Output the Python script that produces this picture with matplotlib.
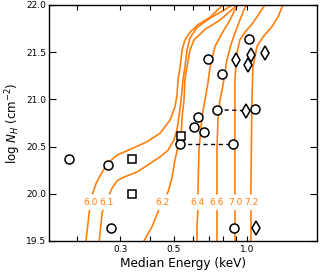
import numpy as np
import matplotlib
matplotlib.use('Agg')
import matplotlib.pyplot as plt
from matplotlib.ticker import FixedLocator, FixedFormatter, LogLocator, NullFormatter

# model tracks: median energy (keV) vs log NH, one per log T
e_60 = [0.217, 0.224, 0.230, 0.239, 0.253, 0.268, 0.292, 0.330, 0.387, 0.438, 0.482, 0.505,
        0.515, 0.520, 0.530, 0.540, 0.555, 0.582, 0.628, 0.704, 0.774, 0.796, 0.820]
nh_60 = [19.50, 19.81, 19.99, 20.11, 20.23, 20.33, 20.41, 20.47, 20.55, 20.64, 20.78, 20.92,
         21.05, 21.21, 21.34, 21.52, 21.63, 21.71, 21.79, 21.87, 21.97, 22.00, 22.03]

e_61 = [0.246, 0.253, 0.268, 0.278, 0.292, 0.314, 0.352, 0.399, 0.438, 0.473, 0.500, 0.515,
        0.525, 0.535, 0.545, 0.555, 0.566, 0.582, 0.622, 0.704, 0.811, 0.867, 0.892]
nh_61 = [19.50, 19.80, 19.97, 20.06, 20.14, 20.18, 20.23, 20.32, 20.39, 20.46, 20.57, 20.68,
         20.83, 20.99, 21.21, 21.34, 21.52, 21.65, 21.76, 21.86, 21.95, 22.00, 22.02]

e_62 = [0.376, 0.406, 0.430, 0.473, 0.491, 0.505, 0.520, 0.535, 0.540, 0.550, 0.555, 0.566,
        0.582, 0.605, 0.671, 0.774, 0.867, 0.909, 0.935]
nh_62 = [19.50, 19.65, 19.81, 20.02, 20.17, 20.36, 20.50, 20.62, 20.81, 20.99, 21.21, 21.34,
         21.52, 21.63, 21.74, 21.84, 21.95, 22.00, 22.02]

e_64 = [0.622, 0.622, 0.628, 0.628, 0.634, 0.652, 0.671, 0.691, 0.704, 0.738, 0.789, 0.851,
        0.892, 0.917, 0.935]
nh_64 = [19.50, 19.65, 19.83, 20.02, 20.46, 20.81, 20.99, 21.18, 21.34, 21.56, 21.70, 21.84,
         21.95, 22.00, 22.03]

e_66 = [0.752, 0.752, 0.752, 0.752, 0.759, 0.774, 0.796, 0.827, 0.859, 0.892, 0.935, 0.980, 0.999]
nh_66 = [19.50, 19.81, 20.04, 20.46, 20.78, 20.99, 21.15, 21.42, 21.58, 21.70, 21.84, 21.97, 22.00]

e_70 = [0.892, 0.892, 0.892, 0.892, 0.909, 0.935, 0.980, 1.058, 1.130, 1.185]
nh_70 = [19.50, 20.04, 20.99, 21.21, 21.49, 21.63, 21.71, 21.81, 21.92, 22.00]

e_72 = [1.038, 1.038, 1.048, 1.058, 1.099, 1.163, 1.267, 1.341, 1.406]
nh_72 = [19.50, 20.04, 20.99, 21.34, 21.56, 21.66, 21.77, 21.87, 22.00]

track_labels = ['6.0', '6.1', '6.2', '6.4', '6.6', '7.0', '7.2']
track_e = [e_60, e_61, e_62, e_64, e_66, e_70, e_72]
track_nh = [nh_60, nh_61, nh_62, nh_64, nh_66, nh_70, nh_72]

# sources
circ_e = [0.185, 0.268, 0.275, 0.530, 0.628, 0.605, 0.665, 0.752, 0.875, 0.884, 0.691, 0.789, 1.019, 1.078]
circ_nh = [20.37, 20.30, 19.64, 20.53, 20.81, 20.71, 20.655, 20.89, 20.53, 19.64, 21.43, 21.27, 21.64, 20.90]
sq_e = [0.336, 0.336, 0.535]
sq_nh = [20.37, 20.00, 20.61]
dia_e = [0.900, 1.038, 1.009, 1.185, 0.990, 1.088]
dia_nh = [21.42, 21.47, 21.36, 21.49, 20.88, 19.64]
pair_e = [[0.530, 0.875], [0.752, 0.990]]
pair_nh = [[20.53, 20.53], [20.89, 20.88]]

orange = '#ff7f0e'
lab_y, gap_lo, gap_hi = 19.91, 19.82, 20.00

fig = plt.figure(figsize=(3.3, 2.75), dpi=100)
ax = fig.add_axes([0.149, 0.124, 0.811, 0.858])
ax.set_xscale('log')

for lab, e, nh in zip(track_labels, track_e, track_nh):
    e = np.asarray(e)
    nh = np.asarray(nh)
    le = np.log10(e)
    e_lo = 10 ** np.interp(gap_lo, nh, le)
    e_hi = 10 ** np.interp(gap_hi, nh, le)
    lo = nh < gap_lo
    hi = nh > gap_hi
    ax.plot(np.r_[e[lo], e_lo], np.r_[nh[lo], gap_lo], color=orange, lw=1.2, zorder=1)
    ax.plot(np.r_[e_hi, e[hi]], np.r_[gap_hi, nh[hi]], color=orange, lw=1.2, zorder=1)
    ax.text(10 ** np.interp(lab_y, nh, le), lab_y, lab, color=orange, fontsize=6.5,
            ha='center', va='center')

for pe, pn in zip(pair_e, pair_nh):
    ax.plot(pe, pn, color='black', ls='--', lw=1.0, dashes=(3, 2.5), zorder=2)

mk = dict(ls='none', mfc='white', mec='black', mew=1.1, zorder=3)
ax.plot(circ_e, circ_nh, marker='o', ms=6.5, **mk)
ax.plot(sq_e, sq_nh, marker='s', ms=6, **mk)
ax.plot(dia_e, dia_nh, marker='d', ms=7.2, **mk)

ax.set_xlim(0.153, 1.94)
ax.set_ylim(19.5, 22.0)
ax.xaxis.set_major_locator(FixedLocator([0.3, 0.5, 1.0]))
ax.xaxis.set_major_formatter(FixedFormatter(['0.3', '0.5', '1.0']))
ax.xaxis.set_minor_locator(LogLocator(base=10, subs=np.arange(2, 10)))
ax.xaxis.set_minor_formatter(NullFormatter())
ax.set_yticks(np.arange(19.5, 22.01, 0.5))
ax.yaxis.set_major_formatter(FixedFormatter(['19.5', '20.0', '20.5', '21.0', '21.5', '22.0']))

ax.tick_params(which='both', direction='in', top=True, right=True, labelsize=6.5, width=0.8)
ax.tick_params(axis='x', which='both', length=3.5, pad=3)
ax.tick_params(axis='y', which='major', length=5, pad=2)
for s in ax.spines.values():
    s.set_linewidth(1.0)

ax.set_xlabel('Median Energy (keV)', fontsize=8.75, labelpad=2)
ax.set_ylabel('log $N_H$ (cm$^{-2}$)', fontsize=8.5, labelpad=2)

fig.savefig('out.png', dpi=100)
